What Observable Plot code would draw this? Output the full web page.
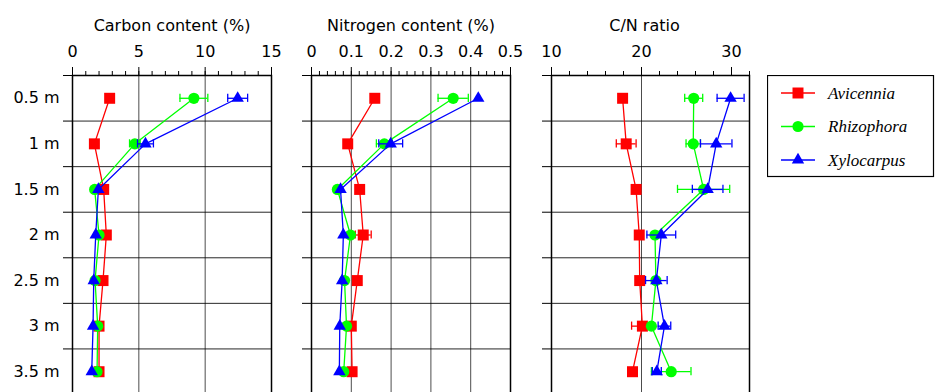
<!DOCTYPE html>
<html><head><meta charset="utf-8">
<script src="https://cdn.jsdelivr.net/npm/d3@7"></script>
<script src="https://cdn.jsdelivr.net/npm/@observablehq/plot@0.6"></script>
<style>
body{margin:0;background:#fff;}
#wrap{position:relative;width:935px;height:392px;overflow:hidden;font-family:"DejaVu Sans",sans-serif;}
.panel{position:absolute;top:0;overflow:visible;}
#legend{position:absolute;left:767px;top:75px;}
</style></head><body><div id="wrap"></div>
<script>
// ---- data ----
const depths = [0.5, 1, 1.5, 2, 2.5, 3, 3.5];
const boundaries = [0.25, 0.75, 1.25, 1.75, 2.25, 2.75, 3.25, 3.75];
const species = ["Avicennia", "Rhizophora", "Xylocarpus"];
const colors = ["#ff0000", "#00ff00", "#0000ff"];

const carbonAvi = [2.8, 1.65, 2.35, 2.55, 2.3, 2.0, 2.0];
const carbonRhi = [9.15, 4.7, 1.67, 2.0, 1.7, 1.9, 1.85];
const carbonXyl = [12.45, 5.5, 1.95, 1.75, 1.6, 1.55, 1.45];
const carbonAviErr = [0, 0, 0, 0, 0, 0, 0];
const carbonRhiErr = [1.05, 0.4, 0, 0, 0, 0, 0];
const carbonXylErr = [0.75, 0.6, 0, 0, 0, 0, 0];

const nitroAvi = [0.159, 0.091, 0.121, 0.13, 0.115, 0.1, 0.102];
const nitroRhi = [0.356, 0.183, 0.065, 0.098, 0.083, 0.088, 0.081];
const nitroXyl = [0.419, 0.199, 0.073, 0.08, 0.077, 0.071, 0.07];
const nitroAviErr = [0, 0, 0, 0.02, 0, 0, 0];
const nitroRhiErr = [0.038, 0.02, 0, 0, 0, 0, 0];
const nitroXylErr = [0, 0.03, 0, 0, 0, 0, 0];

const cnAvi = [17.9, 18.3, 19.4, 19.75, 19.8, 20.1, 19.0];
const cnRhi = [25.8, 25.75, 26.9, 21.5, 21.6, 21.1, 23.3];
const cnXyl = [29.9, 28.3, 27.35, 22.2, 21.65, 22.55, 21.7];
const cnAviErr = [0, 1.1, 0, 0, 0, 1.2, 0];
const cnRhiErr = [1.0, 0.8, 2.9, 0, 0, 0, 2.2];
const cnXylErr = [1.5, 1.75, 1.7, 1.6, 1.2, 0.7, 0.5];

const carbonMajor = [0, 5, 10, 15];
const carbonMinor = [0,1,2,3,4,5,6,7,8,9,10,11,12,13,14,15];
const nitroMajor = [0, 0.1, 0.2, 0.3, 0.4, 0.5];
const nitroMinor = [0,0.02,0.04,0.06,0.08,0.1,0.12,0.14,0.16,0.18,0.2,0.22,0.24,0.26,0.28,0.3,0.32,0.34,0.36,0.38,0.4,0.42,0.44,0.46,0.48,0.5];
const cnMajor = [10, 20, 30];
const cnMinor = [10,12,14,16,18,20,22,24,26,28,30,32];

const symbols = [d3.symbolSquare, d3.symbolCircle, d3.symbolTriangle];
const symbolR = [6.2, 5.6, 4.6];

const wrap = document.getElementById("wrap");
const FONT = '"DejaVu Sans",sans-serif';

function panel(o) {
  const rows = [];
  species.forEach((s, k) => depths.forEach((d, i) => rows.push({s, k, depth: d, v: o.values[k][i], e: o.errs[k][i]})));
  const marks = [
    Plot.gridY(boundaries.slice(1, -1), {stroke: "#000", strokeOpacity: 0.85, strokeWidth: 1}),
    Plot.gridX(o.major.slice(1, -1), {stroke: "#000", strokeOpacity: 0.7, strokeWidth: 1}),
    Plot.axisY(boundaries, {tickSize: 9, tickFormat: () => "", label: null, strokeWidth: 1}),
    Plot.axisX(o.minor, {anchor: "top", tickSize: 5, tickFormat: () => "", label: null}),
    Plot.axisX(o.major, {anchor: "top", tickSize: 9, tickPadding: 10, label: null, fontSize: 16, tickFormat: o.fmt}),
    Plot.frame({stroke: "#000", strokeWidth: 1.5}),
    Plot.text([o.title], {text: d => d, frameAnchor: "top", dy: -56, dx: o.titleDx || 0, fontSize: 16})
  ];
  if (o.showY) marks.push(Plot.axisY(depths, {tickSize: 0, tickPadding: 13, tickFormat: d => d + " m", label: null, fontSize: 16}));
  species.forEach((s, k) => {
    const data = rows.filter(r => r.k === k);
    const ed = data.filter(r => r.e > 0);
    marks.push(
      Plot.line(data, {x: "v", y: "depth", stroke: colors[k], strokeWidth: 1.3}),
      Plot.ruleY(ed, {y: "depth", x1: r => r.v - r.e, x2: r => r.v + r.e, stroke: colors[k], strokeWidth: 1.3}),
      Plot.ruleX(ed, {x: r => r.v - r.e, y1: r => r.depth - 0.045, y2: r => r.depth + 0.045, stroke: colors[k], strokeWidth: 1.3}),
      Plot.ruleX(ed, {x: r => r.v + r.e, y1: r => r.depth - 0.045, y2: r => r.depth + 0.045, stroke: colors[k], strokeWidth: 1.3}),
      Plot.dot(data, {x: "v", y: "depth", fill: colors[k], stroke: "none", symbol: symbols[k], r: symbolR[k]})
    );
  });
  const chart = Plot.plot({
    width: o.width, height: 392,
    marginLeft: o.mL, marginRight: o.mR, marginTop: 75, marginBottom: -2,
    style: {fontFamily: FONT, fontSize: "16px", color: "#000", background: "transparent", overflow: "visible"},
    x: {domain: o.domain},
    y: {domain: [0.25, 3.75], reverse: true},
    marks
  });
  chart.classList.add("panel");
  chart.style.left = o.left + "px";
  wrap.appendChild(chart);
}

panel({left: 0, width: 280, mL: 72, mR: 9, domain: [0, 15], major: carbonMajor, minor: carbonMinor,
  title: "Carbon content (%)", values: [carbonAvi, carbonRhi, carbonXyl], errs: [carbonAviErr, carbonRhiErr, carbonXylErr], showY: true, fmt: d => String(d)});
panel({left: 280, width: 240, mL: 31, mR: 10, domain: [0, 0.5], major: nitroMajor, minor: nitroMinor,
  title: "Nitrogen content (%)", values: [nitroAvi, nitroRhi, nitroXyl], errs: [nitroAviErr, nitroRhiErr, nitroXylErr], showY: false, fmt: d => String(d)});
panel({left: 520, width: 240, mL: 31, mR: 11, domain: [10, 32], major: cnMajor, minor: cnMinor, titleDx: -6,
  title: "C/N ratio", values: [cnAvi, cnRhi, cnXyl], errs: [cnAviErr, cnRhiErr, cnXylErr], showY: false, fmt: d => String(d)});

// ---- legend ----
const lg = d3.select(wrap).append("svg").attr("id", "legend").attr("width", 168).attr("height", 103);
lg.append("rect").attr("x", 0.5).attr("y", 0.5).attr("width", 166).attr("height", 101).attr("fill", "#fff").attr("stroke", "#000").attr("stroke-width", 1.2);
species.forEach((s, k) => {
  const g = lg.append("g").attr("transform", `translate(0,${18 + k * 33.5})`);
  g.append("line").attr("x1", 14).attr("x2", 48).attr("stroke", colors[k]).attr("stroke-width", 1.5);
  g.append("path").attr("transform", "translate(31,0)").attr("d", d3.symbol(symbols[k], Math.PI * symbolR[k] * symbolR[k])()).attr("fill", colors[k]);
  g.append("text").attr("x", 61).attr("dy", "0.35em").attr("font-family", '"Liberation Serif","DejaVu Serif",serif')
    .attr("font-style", "italic").attr("font-size", 17).text(s);
});
</script></body></html>
